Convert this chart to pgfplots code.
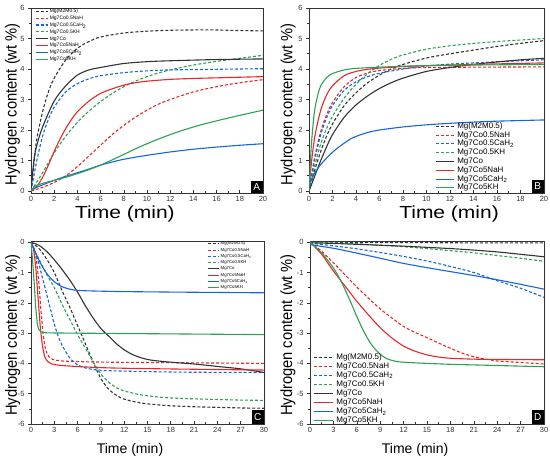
\documentclass[border=0pt]{standalone}
\usepackage{fontspec}
\setmainfont{Liberation Sans}
\usepackage{graphicx}
\usepackage{pgfplots}
\pgfplotsset{compat=1.18}
\definecolor{axgray}{HTML}{333333}
\definecolor{cK}{HTML}{333333}
\definecolor{cR}{RGB}{232,40,40}
\definecolor{cB}{RGB}{22,101,224}
\definecolor{cG}{RGB}{44,160,86}
\pgfplotsset{
  base/.style={scale only axis,
    axis line style={draw=axgray, line width=0.8pt},
    tick style={draw=axgray, line width=0.6pt},
    xtick pos=lower, ytick pos=left,
    xtick align=inside, ytick align=outside,
    major tick length=3pt, minor tick length=1.8pt,
    minor x tick num=1, minor y tick num=1,
    tick label style={font=\fontsize{7.5}{9}\selectfont, text=axgray},
    /pgf/number format/assume math mode=true,
    legend cell align=left,
    clip=true},
  kd/.style={draw=cK, line width=1.1pt, dash pattern=on 3pt off 2pt, smooth},
  rd/.style={draw=cR, line width=1.1pt, dash pattern=on 3pt off 2pt, smooth},
  bd/.style={draw=cB, line width=1.1pt, dash pattern=on 3pt off 2pt, smooth},
  gd/.style={draw=cG, line width=1.1pt, dash pattern=on 3pt off 2pt, smooth},
  ks/.style={draw=cK, line width=1.1pt, smooth},
  rs/.style={draw=cR, line width=1.1pt, smooth},
  bs/.style={draw=cB, line width=1.1pt, smooth},
  gs/.style={draw=cG, line width=1.1pt, smooth},
}
\newcommand{\bigx}{\fontsize{17.5}{20}\selectfont\scalebox{1.2}[1]{Time (min)}}
\newcommand{\smallx}{\fontsize{14}{16}\selectfont Time (min)}
\newcommand{\ylab}{\fontsize{14.7}{16}\selectfont\scalebox{1}[1.1]{Hydrogen content (wt \%)}}
\newcommand{\corner}[1]{\node[fill=black, text=white, font=\fontsize{10}{12}\selectfont, minimum width=12pt, minimum height=#1, inner sep=0pt, anchor=south east] at (rel axis cs:1,0)}
\begin{document}
\begin{tikzpicture}[x=1pt,y=1pt]
\useasboundingbox (0,0) rectangle (550,460);
% ---------------- A
\begin{axis}[base, at={(31pt,267pt)}, anchor=south west, width=232pt, height=185pt,
  xmin=0, xmax=20, ymin=-0.065, ymax=6, xtick={0,2,...,20}, ytick={0,1,...,6},
  xlabel={\bigx}, ylabel={\ylab},
  xlabel style={at={(axis description cs:0.405,-0.112)}, anchor=center},
  ylabel style={at={(axis description cs:-0.08,0.48)}, anchor=center},
  legend image code/.code={\draw[#1] (0pt,0pt) -- (12pt,0pt);},
  legend style={at={(axis description cs:0,1)}, anchor=north west, xshift=4pt,
    draw=none, fill=none, inner sep=0pt, column sep=1pt, row sep=0.9pt,
    font=\fontsize{5}{6}\selectfont,
    nodes={inner sep=0.5pt, text height=3.8pt, text depth=1.2pt}}]
\addplot[kd] coordinates {(0,0) (0.25,0.9) (0.5,1.7) (1,2.6) (1.5,3.25) (2,3.7) (3,4.3) (4,4.68) (5,4.9) (6,5.05) (8,5.18) (10,5.24) (12,5.27) (14,5.28) (16,5.28) (18,5.26) (20,5.25)};
\addplot[rd] coordinates {(0,0) (1,0.12) (2,0.28) (3,0.5) (4,0.8) (5,1.15) (6,1.5) (7,1.85) (8,2.15) (9,2.42) (10,2.65) (11,2.85) (12,3.0) (14,3.25) (16,3.42) (18,3.55) (20,3.65)};
\addplot[bd] coordinates {(0,0) (0.25,0.5) (0.5,1.0) (1,1.8) (1.5,2.35) (2,2.75) (3,3.25) (4,3.52) (5,3.68) (6,3.78) (8,3.88) (10,3.94) (12,3.97) (14,3.98) (16,3.99) (18,4.0) (20,4.01)};
\addplot[gd] coordinates {(0,0) (0.5,0.3) (1,0.6) (2,1.25) (3,1.8) (4,2.25) (5,2.62) (6,2.93) (7,3.2) (8,3.42) (9,3.6) (10,3.75) (11,3.87) (12,3.97) (14,4.13) (16,4.25) (18,4.35) (20,4.45)};
\addplot[ks] coordinates {(0,0) (0.25,1.0) (0.5,1.5) (1,2.1) (2,2.95) (3,3.45) (4,3.8) (5,3.97) (6,4.05) (8,4.18) (10,4.24) (12,4.27) (16,4.31) (20,4.33)};
\addplot[rs] coordinates {(0,0) (0.5,0.15) (1,0.45) (1.5,0.85) (2,1.3) (2.5,1.7) (3,2.05) (3.5,2.35) (4,2.6) (5,2.95) (6,3.2) (7,3.35) (8,3.47) (9,3.55) (10,3.6) (12,3.66) (14,3.69) (16,3.71) (18,3.73) (20,3.75)};
\addplot[bs] coordinates {(0,0.05) (1,0.2) (2,0.35) (3,0.48) (4,0.6) (5,0.72) (6,0.85) (7,0.95) (8,1.04) (10,1.17) (12,1.28) (14,1.37) (16,1.44) (18,1.5) (20,1.55)};
\addplot[gs] coordinates {(0,0) (0.3,0.15) (1,0.25) (2,0.35) (3,0.45) (4,0.57) (5,0.7) (6,0.85) (7,1.02) (8,1.2) (9,1.38) (10,1.55) (12,1.85) (14,2.1) (16,2.3) (18,2.48) (20,2.65)};
\legend{Mg(M2M0.5), Mg7Co0.5NaH, Mg7Co0.5CaH\textsubscript{2}, Mg7Co0.5KH, Mg7Co, Mg7Co5NaH, Mg7Co5CaH\textsubscript{2}, Mg7Co5KH}
\corner{12pt}{A};
\end{axis}
% ---------------- B
\begin{axis}[base, at={(309pt,267pt)}, anchor=south west, width=235pt, height=185pt,
  xmin=0, xmax=20, ymin=-0.065, ymax=6, xtick={0,2,...,20}, ytick={0,1,...,6},
  xlabel={\bigx}, ylabel={\ylab},
  xlabel style={at={(axis description cs:0.596,-0.112)}, anchor=center},
  ylabel style={at={(axis description cs:-0.089,0.48)}, anchor=center},
  legend image code/.code={\draw[#1] (0pt,0pt) -- (18pt,0pt);},
  legend style={at={(axis description cs:0.536,0.385)}, anchor=north west,
    draw=none, fill=none, inner sep=0pt, column sep=2.5pt, row sep=0.2pt,
    font=\fontsize{8}{9}\selectfont,
    nodes={inner sep=0.5pt, text height=5.8pt, text depth=1.8pt}}]
\addplot[kd] coordinates {(0,0) (0.25,0.35) (0.5,0.7) (1,1.3) (1.5,1.8) (2,2.2) (3,2.8) (4,3.22) (5,3.55) (6,3.8) (7,4.0) (8,4.15) (10,4.36) (12,4.5) (14,4.62) (16,4.74) (18,4.84) (20,4.93)};
\addplot[rd] coordinates {(0,0) (0.25,0.6) (0.5,1.15) (1,1.95) (1.5,2.5) (2,2.9) (3,3.42) (4,3.72) (5,3.87) (6,3.95) (8,4.02) (10,4.05) (14,4.06) (20,4.07)};
\addplot[bd] coordinates {(0,0) (0.25,0.55) (0.5,1.05) (1,1.85) (1.5,2.4) (2,2.8) (3,3.3) (4,3.58) (5,3.75) (6,3.86) (8,4.0) (10,4.1) (12,4.16) (14,4.2) (16,4.24) (18,4.27) (20,4.3)};
\addplot[gd] coordinates {(0,0) (0.25,0.45) (0.5,0.85) (1,1.55) (1.5,2.05) (2,2.45) (3,3.05) (4,3.5) (5,3.85) (6,4.12) (7,4.32) (8,4.46) (10,4.65) (12,4.76) (14,4.84) (16,4.9) (18,4.95) (20,5.0)};
\addplot[ks] coordinates {(0,0) (0.25,0.25) (0.5,0.5) (1,1.0) (1.5,1.45) (2,1.85) (3,2.42) (4,2.82) (5,3.12) (6,3.36) (7,3.55) (8,3.7) (10,3.92) (12,4.05) (14,4.15) (16,4.23) (18,4.3) (20,4.35)};
\addplot[rs] coordinates {(0,0) (0.2,0.9) (0.5,1.8) (1,2.65) (1.5,3.15) (2,3.45) (3,3.78) (4,3.92) (5,3.99) (6,4.03) (8,4.08) (10,4.11) (14,4.15) (20,4.2)};
\addplot[bs] coordinates {(0,0.1) (0.15,0.35) (0.5,0.6) (1,0.87) (1.5,1.08) (2,1.27) (2.5,1.43) (3,1.57) (3.5,1.7) (4,1.79) (5,1.92) (6,2.0) (8,2.1) (10,2.17) (12,2.22) (14,2.26) (16,2.29) (18,2.31) (20,2.33)};
\addplot[gs] coordinates {(0,0) (0.1,0.8) (0.2,1.5) (0.35,2.2) (0.5,2.7) (0.75,3.15) (1,3.45) (1.5,3.72) (2,3.85) (3,3.97) (4,4.02) (6,4.06) (8,4.09) (10,4.11) (14,4.13) (20,4.15)};
\legend{Mg(M2M0.5), Mg7Co0.5NaH, Mg7Co0.5CaH\textsubscript{2}, Mg7Co0.5KH, Mg7Co, Mg7Co5NaH, Mg7Co5CaH\textsubscript{2}, Mg7Co5KH}
\corner{12.5pt}{B};
\end{axis}
% ---------------- C
\begin{axis}[base, at={(31pt,36pt)}, anchor=south west, width=233pt, height=183pt,
  xmin=0, xmax=30, ymin=-6, ymax=0.04, xtick={0,3,...,30}, ytick={-6,-5,...,0},
  xlabel={\smallx}, ylabel={\ylab},
  xlabel style={at={(axis description cs:0.425,-0.139)}, anchor=center},
  ylabel style={at={(axis description cs:-0.079,0.486)}, anchor=center},
  legend image code/.code={\draw[#1] (0pt,0pt) -- (11pt,0pt);},
  legend style={at={(axis description cs:0.755,1)}, anchor=north west,
    draw=none, fill=none, inner sep=0pt, column sep=1pt, row sep=0.95pt,
    font=\fontsize{4.3}{5}\selectfont,
    nodes={inner sep=0.5pt, text height=3.3pt, text depth=1.0pt}}]
\addplot[kd] coordinates {(0,0) (1,-0.2) (2,-0.55) (3,-1.0) (4,-1.6) (5,-2.15) (6,-2.75) (7,-3.35) (8,-3.95) (9,-4.5) (10,-4.85) (11,-5.05) (12,-5.18) (14,-5.3) (16,-5.36) (18,-5.4) (21,-5.43) (24,-5.45) (27,-5.47) (30,-5.48)};
\addplot[rd] coordinates {(0,0) (0.4,-0.2) (0.7,-0.6) (1,-1.3) (1.3,-2.3) (1.6,-3.1) (1.9,-3.55) (2.3,-3.78) (2.8,-3.87) (4,-3.92) (6,-3.94) (10,-3.96) (20,-3.98) (30,-4.0)};
\addplot[bd] coordinates {(0,0) (0.5,-0.3) (1,-0.7) (1.5,-1.2) (2,-1.7) (2.5,-2.2) (3,-2.7) (3.5,-3.1) (4,-3.4) (5,-3.82) (6,-4.05) (7,-4.15) (8,-4.2) (10,-4.24) (15,-4.27) (20,-4.29) (30,-4.3)};
\addplot[gd] coordinates {(0,0) (0.5,-0.3) (1,-0.55) (2,-1.05) (3,-1.5) (4,-2.05) (5,-2.55) (6,-3.05) (7,-3.5) (8,-3.95) (9,-4.35) (10,-4.62) (11,-4.8) (12,-4.91) (14,-5.03) (16,-5.1) (18,-5.14) (21,-5.17) (24,-5.19) (27,-5.21) (30,-5.22)};
\addplot[ks] coordinates {(0,0) (1,-0.1) (2,-0.3) (3,-0.58) (4,-0.9) (5,-1.25) (6,-1.65) (7,-2.1) (8,-2.5) (9,-2.85) (10,-3.1) (11,-3.35) (12,-3.55) (13,-3.7) (14,-3.8) (15,-3.87) (16,-3.91) (18,-3.96) (21,-4.02) (24,-4.1) (27,-4.18) (30,-4.3)};
\addplot[rs] coordinates {(0,0) (0.3,-0.2) (0.6,-0.8) (0.9,-1.8) (1.2,-2.8) (1.5,-3.45) (1.8,-3.8) (2.2,-3.95) (2.7,-4.02) (4,-4.07) (8,-4.13) (12,-4.16) (20,-4.19) (30,-4.22)};
\addplot[bs] coordinates {(0,0) (0.5,-0.3) (1,-0.58) (1.5,-0.82) (2,-1.02) (2.5,-1.18) (3,-1.3) (3.5,-1.4) (4,-1.47) (5,-1.55) (6,-1.59) (8,-1.61) (12,-1.63) (20,-1.65) (30,-1.67)};
\addplot[gs] coordinates {(0,0) (0.2,-0.6) (0.4,-1.3) (0.6,-2.1) (0.8,-2.65) (1.0,-2.88) (1.3,-2.96) (2,-2.99) (5,-3.0) (10,-3.01) (20,-3.03) (30,-3.05)};
\legend{Mg(M2M0.5), Mg7Co0.5NaH, Mg7Co0.5CaH\textsubscript{2}, Mg7Co0.5KH, Mg7Co, Mg7Co5NaH, Mg7Co5CaH\textsubscript{2}, Mg7Co5KH}
\corner{14pt}{C};
\end{axis}
% ---------------- D
\begin{axis}[base, at={(310pt,36pt)}, anchor=south west, width=234pt, height=183pt,
  xmin=0, xmax=30, ymin=-6, ymax=0.04, xtick={0,3,...,30}, ytick={-6,-5,...,0},
  xlabel={\smallx}, ylabel={\ylab},
  xlabel style={at={(axis description cs:0.449,-0.139)}, anchor=center},
  ylabel style={at={(axis description cs:-0.094,0.486)}, anchor=center},
  legend image code/.code={\draw[#1] (0pt,0pt) -- (19pt,0pt);},
  legend style={at={(axis description cs:0.013,0.389)}, anchor=north west,
    draw=none, fill=none, inner sep=0pt, column sep=2.5pt, row sep=0.45pt,
    font=\fontsize{8}{9}\selectfont,
    nodes={inner sep=0.5pt, text height=5.8pt, text depth=1.8pt}}]
\addplot[kd] coordinates {(0,0) (10,-0.01) (20,-0.02) (30,-0.02)};
\addplot[rd] coordinates {(0,0) (1.5,-0.3) (3,-0.68) (4.5,-1.08) (6,-1.48) (7.5,-1.85) (9,-2.2) (10.5,-2.5) (12,-2.78) (13.5,-2.98) (15,-3.15) (16.5,-3.33) (18,-3.5) (19.5,-3.66) (21,-3.78) (22.5,-3.86) (24,-3.92) (27,-3.97) (30,-4.02)};
\addplot[bd] coordinates {(0,-0.03) (3,-0.12) (6,-0.22) (9,-0.34) (12,-0.47) (15,-0.62) (18,-0.8) (21,-1.0) (24,-1.27) (27,-1.52) (30,-1.82)};
\addplot[gd] coordinates {(0,0) (3,-0.02) (6,-0.05) (9,-0.1) (12,-0.15) (15,-0.21) (18,-0.28) (21,-0.35) (24,-0.44) (27,-0.53) (30,-0.63)};
\addplot[ks] coordinates {(0,-0.02) (3,-0.04) (6,-0.07) (9,-0.1) (12,-0.13) (15,-0.17) (18,-0.21) (21,-0.26) (24,-0.32) (27,-0.4) (30,-0.48)};
\addplot[rs] coordinates {(0,0) (1.5,-0.4) (3,-0.95) (4.5,-1.45) (6,-1.95) (7.5,-2.4) (9,-2.82) (10.5,-3.16) (12,-3.43) (13.5,-3.6) (15,-3.72) (16.5,-3.79) (18,-3.83) (21,-3.86) (24,-3.87) (30,-3.88)};
\addplot[bs] coordinates {(0,-0.08) (3,-0.2) (6,-0.36) (9,-0.53) (12,-0.7) (15,-0.84) (18,-0.97) (21,-1.1) (24,-1.24) (27,-1.39) (30,-1.55)};
\addplot[gs] coordinates {(0,0) (1.5,-0.35) (3,-0.85) (4,-1.3) (5,-1.85) (6,-2.45) (7,-3.0) (8,-3.42) (9,-3.7) (10,-3.86) (11,-3.93) (12,-3.96) (15,-4.0) (18,-4.03) (21,-4.05) (24,-4.07) (27,-4.09) (30,-4.11)};
\legend{Mg(M2M0.5), Mg7Co0.5NaH, Mg7Co0.5CaH\textsubscript{2}, Mg7Co0.5KH, Mg7Co, Mg7Co5NaH, Mg7Co5CaH\textsubscript{2}, Mg7Co5KH}
\corner{14pt}{D};
\end{axis}
\end{tikzpicture}
\end{document}
